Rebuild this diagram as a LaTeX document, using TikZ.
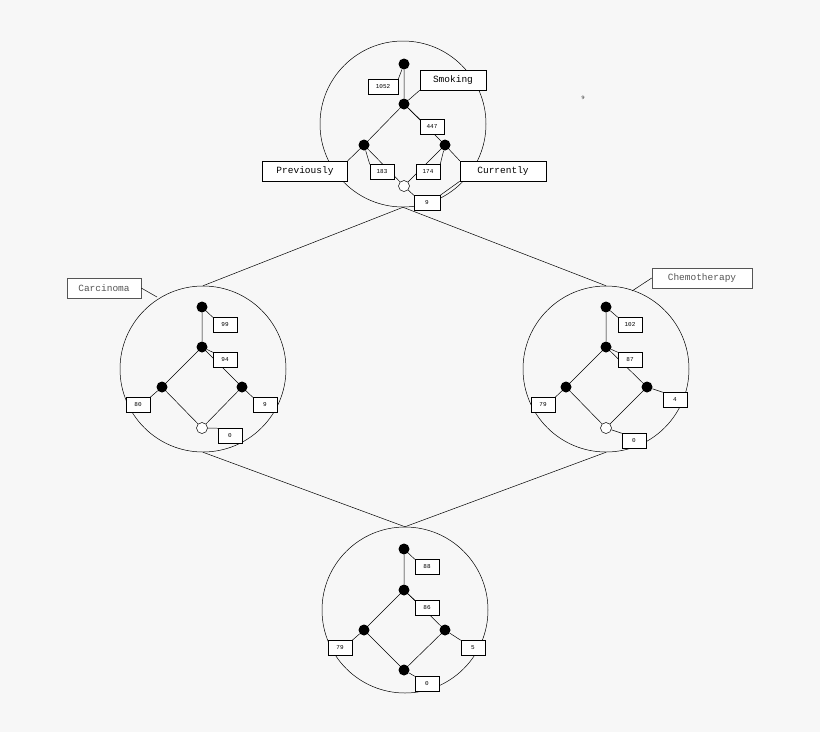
\documentclass[tikz,border=0pt]{standalone}
\usepackage{fontspec}
\setmonofont{Liberation Mono}
\definecolor{bg}{HTML}{F7F7F7}
\definecolor{lg}{HTML}{555555}
\begin{document}
\begin{tikzpicture}[x=1pt,y=-1pt,line width=0.5pt,
  dot/.style={circle,fill=black,inner sep=0pt,minimum size=11pt},
  hol/.style={circle,draw=black,fill=white,inner sep=0pt,minimum size=11pt},
  cnt/.style={draw,fill=white,font=\ttfamily\fontsize{6}{7}\selectfont,minimum width=24pt,minimum height=15pt,inner sep=1pt,anchor=center},
  lab/.style={draw,fill=white,font=\ttfamily\fontsize{9.5}{11}\selectfont,minimum height=20pt,inner sep=3pt},
  ring/.style={draw,circle,inner sep=0pt,minimum size=166pt}]
\fill[bg] (0,0) rectangle (820,732);
\useasboundingbox (0,0) rectangle (820,732);
% circles
\node[ring] (C1) at (403,124) {};
\node[ring] (C2) at (203,369) {};
\node[ring] (C3) at (606,369) {};
\node[ring] (C4) at (405,610) {};
\draw (C1.south) -- (C2.north);
\draw (C1.south) -- (C3.north);
\draw (C2.south) -- (C4.north);
\draw (C3.south) -- (C4.north);
\node[font=\fontsize{5}{6}\selectfont] (nine) at (583,98) {9};
% ---- top lattice
\node[dot] (a1) at (404,64) {};
\node[dot] (a2) at (404,104) {};
\node[dot] (a3) at (364,145) {};
\node[dot] (a4) at (445,145) {};
\node[hol] (a5) at (404,186) {};
\draw (a1)--(a2) (a2)--(a3) (a2)--(a4) (a3)--(a5) (a4)--(a5);
\node[cnt,minimum width=30pt] (b1) at (383,87) {1052};
\node[cnt] (b2) at (432,127) {447};
\node[cnt] (b3) at (382,172) {183};
\node[cnt] (b4) at (428,172) {174};
\node[cnt,minimum width=26pt] (b5) at (427,203) {9\hspace{12pt}};
\node[lab,minimum width=66pt] (sm) at (453,80) {Smoking};
\node[lab,minimum width=85pt] (pr) at (305,171) {Previously};
\node[lab,minimum width=86pt] (cu) at (503,171) {Currently};
\draw (a1)--(b1.north east) (a2)--(sm.south west) (a2)--(b2.north west)
      (a3)--(pr.north east) (a3)--(b3.north west) (a4)--(b4.north east)
      (a4)--(cu.north west) (cu.south west)--(b5.north east) (a5)--(b5.north west);
% ---- left lattice
\node[dot] (c1) at (202,307) {};
\node[dot] (c2) at (202,347) {};
\node[dot] (c3) at (162,387) {};
\node[dot] (c4) at (242,387) {};
\node[hol] (c5) at (202,428) {};
\draw (c1)--(c2) (c2)--(c3) (c2)--(c4) (c3)--(c5) (c4)--(c5);
\node[cnt] (d1) at (225,325) {99};
\node[cnt] (d2) at (225,360) {94};
\node[cnt] (d3) at (138,405) {80};
\node[cnt] (d4) at (265,405) {9\hspace{10pt}};
\node[cnt] (d5) at (230,436) {0\hspace{10pt}};
\draw (c1)--(d1.north west) (c2)--(d2.north west) (c3)--(d3.north east) (c4)--(d4.north west) (c5)--(d5.north west);
\node[lab,draw=lg,text=lg,minimum width=74pt] (ca) at (104,288) {Carcinoma};
\draw (ca.east)--(157,297);
% ---- right lattice
\node[dot] (e1) at (606,307) {};
\node[dot] (e2) at (606,347) {};
\node[dot] (e3) at (566,387) {};
\node[dot] (e4) at (647,387) {};
\node[hol] (e5) at (606,428) {};
\draw (e1)--(e2) (e2)--(e3) (e2)--(e4) (e3)--(e5) (e4)--(e5);
\node[cnt] (f1) at (630,325) {102};
\node[cnt] (f2) at (630,360) {87};
\node[cnt] (f3) at (543,405) {79\hspace{6pt}};
\node[cnt] (f4) at (675,400) {4\hspace{10pt}};
\node[cnt] (f5) at (634,441) {0\hspace{10pt}};
\draw (e1)--(f1.north west) (e2)--(f2.north west) (e3)--(f3.north east) (e4)--(f4.north west) (e5)--(f5.north west);
\node[lab,draw=lg,text=lg,minimum width=100pt] (ch) at (702,278) {Chemotherapy};
\draw (ch.west)--(632,291);
% ---- bottom lattice
\node[dot] (g1) at (404,549) {};
\node[dot] (g2) at (404,590) {};
\node[dot] (g3) at (364,630) {};
\node[dot] (g4) at (445,630) {};
\node[dot] (g5) at (404,670) {};
\draw (g1)--(g2) (g2)--(g3) (g2)--(g4) (g3)--(g5) (g4)--(g5);
\node[cnt] (h1) at (427,567) {88};
\node[cnt] (h2) at (427,608) {86};
\node[cnt] (h3) at (340,648) {79\hspace{6pt}};
\node[cnt] (h4) at (473,648) {5\hspace{10pt}};
\node[cnt] (h5) at (427,684) {0\hspace{10pt}};
\draw (g1)--(h1.north west) (g2)--(h2.north west) (g3)--(h3.north east) (g4)--(h4.north west) (g5)--(h5.north west);
\end{tikzpicture}
\end{document}
